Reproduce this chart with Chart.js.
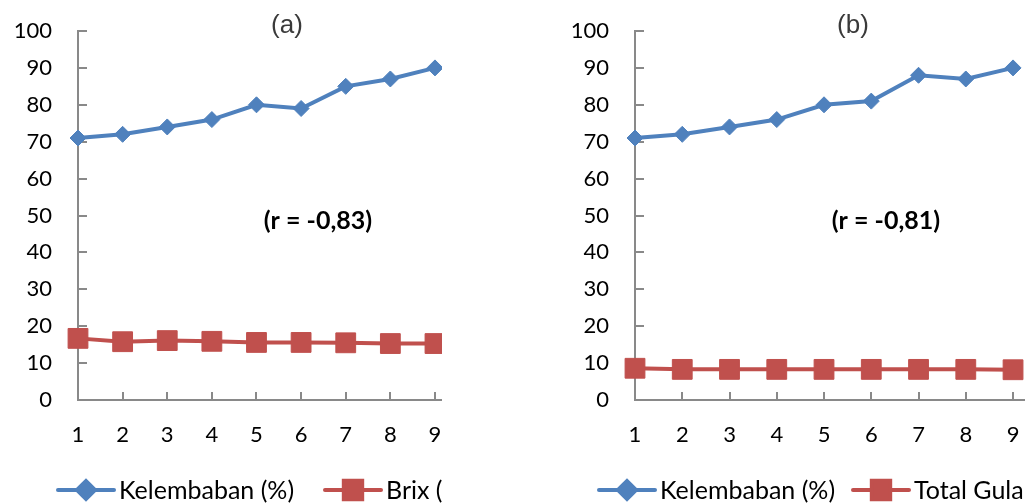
<!DOCTYPE html>
<html>
<head>
<meta charset="utf-8">
<script src="https://cdn.jsdelivr.net/npm/chart.js@4"></script>
<style>
  html, body { margin: 0; padding: 0; background: #fff; overflow: hidden; width: 1025px; height: 504px; }
  .wrap { position: absolute; top: 0; height: 504px; overflow: hidden; }
  canvas { display: block; }
</style>
</head>
<body>
<div class="wrap" style="left:0;width:442px;"><canvas id="ca" width="520" height="504"></canvas></div>
<div class="wrap" style="left:560px;width:465px;"><canvas id="cb" width="540" height="504"></canvas></div>
<script>
// ---- data ----
const categories = ['1', '2', '3', '4', '5', '6', '7', '8', '9'];
const kelembabanA = [71, 72, 74, 76, 80, 79, 85, 87, 90];
const brix = [16.7, 15.8, 16.1, 15.9, 15.6, 15.6, 15.5, 15.3, 15.3];
const kelembabanB = [71, 72, 74, 76, 80, 81, 88, 87, 90];
const totalGula = [8.6, 8.3, 8.3, 8.3, 8.3, 8.3, 8.3, 8.3, 8.2];
const seriesNamesA = ['Kelembaban (%)', 'Brix (%)'];
const seriesNamesB = ['Kelembaban (%)', 'Total Gula (%)'];
const titleA = '(a)', titleB = '(b)';
const noteA = '(r = -0,83)', noteB = '(r = -0,81)';
const yMin = 0, yMax = 100, yStep = 10;

const BLUE = '#4f81bd', RED = '#c0504d', AXIS = '#898989';
Chart.defaults.font.family = 'Lato, "DejaVu Sans", sans-serif';
Chart.defaults.color = '#000';

function pts(vals) { return vals.map((v, i) => ({ x: i + 1, y: v })); }

function makeChart(id, cfg) {
  const f = cfg.frame;
  const ds = [
    { label: cfg.names[0], data: pts(cfg.s1), borderColor: BLUE, backgroundColor: BLUE,
      borderWidth: 4, pointStyle: 'rectRot', pointRadius: 8, pointBorderWidth: 1,
      pointBackgroundColor: BLUE, pointBorderColor: BLUE, clip: false, tension: 0 },
    { label: cfg.names[1], data: pts(cfg.s2), borderColor: RED, backgroundColor: RED,
      borderWidth: 4, pointStyle: 'rect', pointRadius: 14, pointBorderWidth: 1,
      pointBackgroundColor: RED, pointBorderColor: RED, clip: false, tension: 0 }
  ];
  const frame = {
    id: 'frame',
    afterLayout(chart) {
      const a = chart.chartArea, xs = chart.scales.x, ys = chart.scales.y;
      a.left = f.left; a.right = f.right; a.top = f.top; a.bottom = f.bottom;
      a.width = f.right - f.left; a.height = f.bottom - f.top;
      ys.left = 0; ys.right = f.left; ys.width = f.left;
      ys.top = f.top; ys.bottom = f.bottom; ys.height = f.bottom - f.top;
      xs.left = f.left; xs.right = f.right; xs.width = f.right - f.left;
      xs.top = f.bottom; xs.bottom = chart.height; xs.height = chart.height - f.bottom;
      ys.configure(); xs.configure();
    }
  };
  const decor = {
    id: 'decor',
    beforeDatasetsDraw(chart) {
      const ctx = chart.ctx, a = chart.chartArea;
      const xs = chart.scales.x, ys = chart.scales.y;
      ctx.save();
      ctx.strokeStyle = AXIS; ctx.lineWidth = 2;
      ys.ticks.forEach(t => {
        const y = Math.round(ys.getPixelForValue(t.value));
        if (t.value === yMin) return;
        ctx.beginPath(); ctx.moveTo(a.left, y); ctx.lineTo(a.left + 9, y); ctx.stroke();
      });
      xs.ticks.forEach(t => {
        const x = Math.round(xs.getPixelForValue(t.value));
        if (t.value === 1) return;
        ctx.beginPath(); ctx.moveTo(x, a.bottom); ctx.lineTo(x, a.bottom - 8); ctx.stroke();
      });
      ctx.restore();
    },
    afterDraw(chart) {
      const ctx = chart.ctx;
      ctx.save();
      ctx.fillStyle = '#3a3a3a';
      ctx.font = '26px "Liberation Sans", Arial, sans-serif';
      ctx.textAlign = 'center'; ctx.textBaseline = 'middle';
      ctx.fillText(cfg.title, cfg.titleX, 26);
      ctx.fillStyle = '#000';
      ctx.font = 'bold 25px Lato, sans-serif';
      ctx.fillText(cfg.note, cfg.noteX, 221);
      ctx.font = '25px Lato, sans-serif';
      ctx.textAlign = 'left';
      chart.data.datasets.forEach((d, i) => {
        const x0 = cfg.legendX[i], y = 490, len = 56;
        ctx.strokeStyle = d.borderColor; ctx.lineWidth = 4; ctx.lineCap = 'round';
        ctx.beginPath(); ctx.moveTo(x0, y); ctx.lineTo(x0 + len, y); ctx.stroke();
        ctx.fillStyle = d.pointBackgroundColor; ctx.strokeStyle = d.pointBorderColor;
        Chart.helpers.drawPoint(ctx, { pointStyle: d.pointStyle, radius: i === 0 ? 9 : 13, rotation: 0, borderWidth: 1 }, x0 + len / 2, y);
        ctx.fillStyle = '#000';
        ctx.fillText(d.label, x0 + len + 5, y + 1);
      });
      ctx.restore();
    }
  };
  return new Chart(document.getElementById(id), {
    type: 'line',
    data: { datasets: ds },
    plugins: [frame, decor],
    options: {
      responsive: false, animation: false, events: [],
      layout: { autoPadding: false, padding: 0 },
      plugins: { legend: { display: false }, tooltip: { enabled: false }, title: { display: false } },
      scales: {
        x: {
          type: 'linear', min: 1, max: 10,
          afterBuildTicks: s => { s.ticks = s.ticks.filter(t => t.value >= 1 && t.value <= 9); },
          ticks: { stepSize: 1, padding: 22, font: { size: 22 }, color: '#000',
                   callback: v => categories[v - 1] },
          grid: { display: true, drawOnChartArea: false, drawTicks: false },
          border: { display: true, color: AXIS, width: 2 }
        },
        y: {
          min: yMin, max: yMax,
          ticks: { stepSize: yStep, padding: 26, font: { size: 22 }, color: '#000' },
          grid: { display: true, drawOnChartArea: false, drawTicks: false },
          border: { display: true, color: AXIS, width: 2 }
        }
      }
    }
  });
}

makeChart('ca', { names: seriesNamesA, s1: kelembabanA, s2: brix, title: titleA, note: noteA,
  titleX: 287, noteX: 318, legendX: [58, 325], frame: { top: 31, bottom: 400, left: 78, right: 479.6 } });
makeChart('cb', { names: seriesNamesB, s1: kelembabanB, s2: totalGula, title: titleB, note: noteB,
  titleX: 293, noteX: 326, legendX: [39, 293], frame: { top: 31, bottom: 400, left: 75, right: 500.3 } });
</script>
</body>
</html>
